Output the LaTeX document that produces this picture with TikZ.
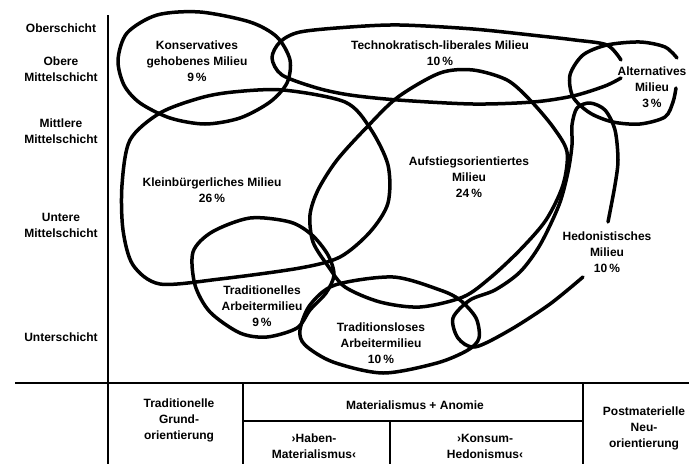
\documentclass[tikz,border=0pt]{standalone}
\usepackage{fontspec}
\setmainfont{Liberation Sans}
\begin{document}
\begin{tikzpicture}[x=1pt,y=-1pt,
			milieu/.style = {line width=3.5pt, line cap=round, line join=round},
			achse/.style = {line width=1.3pt},
			lbl/.style = {align=center, inner sep=0pt, font=\fontsize{12}{16}\selectfont\bfseries}]
	\useasboundingbox (0,0) rectangle (689,464);

	\draw[achse] (108,15) -- (108,464);
	\draw[achse] (15,383) -- (689,383);
	\draw[achse] (243,383) -- (243,464);
	\draw[achse] (583,383) -- (583,464);
	\draw[achse] (243,421) -- (583,421);
	\draw[achse] (390,421) -- (390,464);

	\node[lbl] (ober) at (61,28) {Oberschicht};
	\node[lbl] (obmit) at (61,69) {Obere\\Mittelschicht};
	\node[lbl] (mitmit) at (61,131) {Mittlere\\Mittelschicht};
	\node[lbl] (untmit) at (61,225) {Untere\\Mittelschicht};
	\node[lbl] (unter) at (61,337) {Unterschicht};

	\draw[milieu] plot[smooth cycle] coordinates {(118,60) (127,33) (157,15) (200,12) (250,22) (277,37) (290,60) (287,83) (270,102) (240,118) (205,124) (170,118) (140,103) (124,85)};
	\draw[milieu] plot[smooth] coordinates {(621,60) (607,45) (575,40) (540,36) (473,29) (400,25) (350,27) (300,32) (280,42) (272,58) (282,75) (317,88) (350,95) (398,100) (473,104) (533,102) (573,96) (605,86) (621,78)};
	\draw[milieu] plot[smooth] coordinates {(677,58) (665,47) (640,42) (607,45) (583,55) (570,75) (573,97) (590,113) (613,122) (640,124) (665,117) (673,102) (676,88)};
	\draw[milieu] plot[smooth cycle] coordinates {(160,113) (200,98) (233,92) (283,90) (345,102) (370,128) (388,165) (388,203) (370,232) (340,257) (300,268) (220,279) (160,284) (133,265) (123,230) (122,185) (130,140)};
	\draw[milieu] plot[smooth cycle] coordinates {(473,70) (507,80) (530,100) (553,127) (567,152) (563,185) (546,220) (520,250) (490,278) (463,297) (420,307) (380,302) (345,287) (328,266) (313,242) (310,215) (318,190) (337,160) (367,127) (398,97) (440,73)};
	\draw[milieu] plot[smooth] coordinates {(608,222) (615,185) (618,160) (615,130) (605,110) (590,103) (577,108) (572,125) (572,145) (568,172) (559,205) (540,245) (520,272) (495,290) (470,300) (453,318) (458,338) (475,347) (510,330) (550,304) (583,277)};
	\draw[milieu] plot[smooth cycle] coordinates {(193,252) (212,232) (250,218) (290,222) (312,235) (328,255) (334,275) (326,293) (310,310) (297,328) (267,337) (240,333) (210,312) (195,285)};
	\draw[milieu] plot[smooth cycle] coordinates {(300,330) (310,305) (335,285) (393,277) (440,290) (460,300) (476,318) (479,338) (468,350) (437,363) (383,373) (333,362) (305,345)};

	\node[lbl] (konserv) at (197,61) {Konservatives\\gehobenes Milieu\\9\,\%};
	\node[lbl] (techno) at (440,53) {Technokratisch-liberales Milieu\\10\,\%};
	\node[lbl] (altern) at (652,87) {Alternatives\\Milieu\\3\,\%};
	\node[lbl] (kleinb) at (212,190) {Kleinbürgerliches Milieu\\26\,\%};
	\node[lbl] (aufst) at (469,177) {Aufstiegsorientiertes\\Milieu\\24\,\%};
	\node[lbl] (hedon) at (607,252) {Hedonistisches\\Milieu\\10\,\%};
	\node[lbl] (tradarb) at (262,306) {Traditionelles\\Arbeitermilieu\\9\,\%};
	\node[lbl] (tradlos) at (381,343) {Traditionsloses\\Arbeitermilieu\\10\,\%};

	\node[lbl] (tradgrund) at (179,420) {Traditionelle\\Grund-\\orientierung};
	\node[lbl] (matanom) at (415,405) {Materialismus + Anomie};
	\node[lbl] (haben) at (314,446) {›Haben-\\Materialismus‹};
	\node[lbl] (konsum) at (485,446) {›Konsum-\\Hedonismus‹};
	\node[lbl] (postmat) at (644,428) {Postmaterielle\\Neu-\\orientierung};
\end{tikzpicture}
\end{document}
